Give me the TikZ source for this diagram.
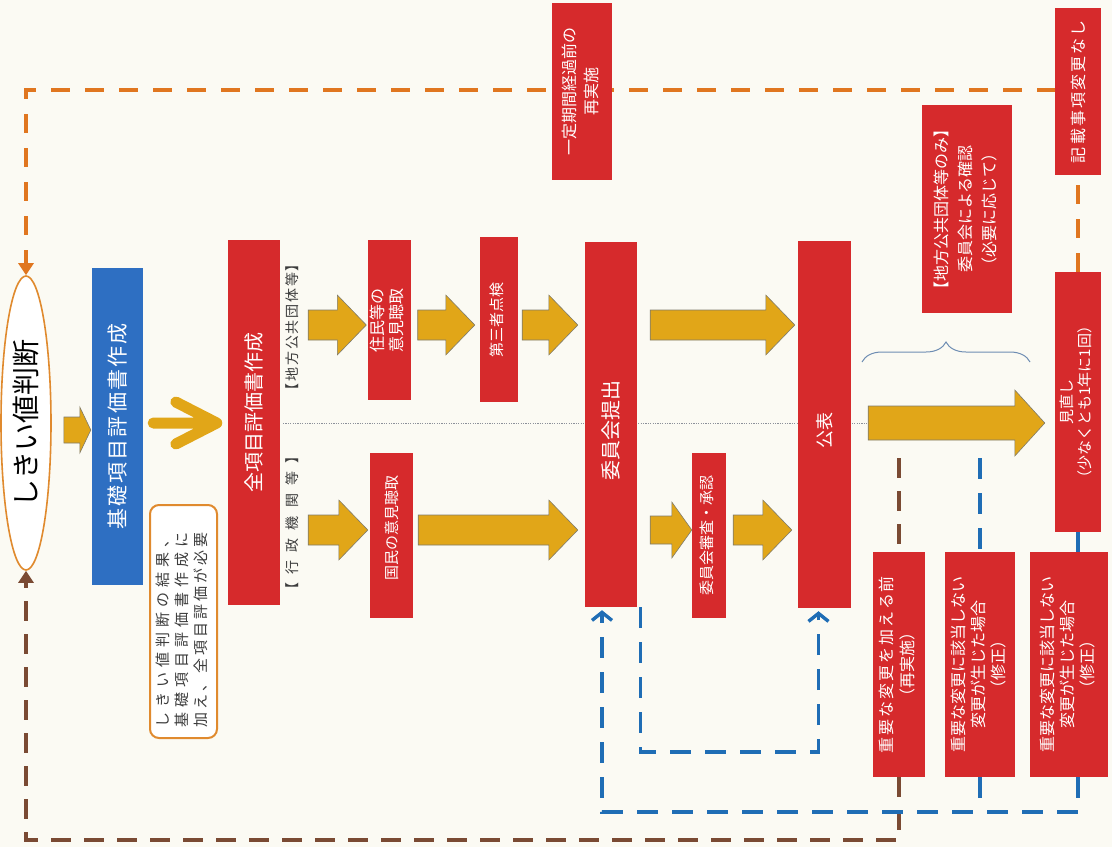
\documentclass[tikz,border=0pt]{standalone}
\usepackage{fontspec}
\setmainfont{Noto Sans CJK JP}
\usetikzlibrary{shapes.geometric,arrows.meta,calc,decorations.pathreplacing}
\pgfdeclarelayer{bg}
\pgfdeclarelayer{lines}
\pgfsetlayers{bg,lines,main}

\definecolor{paper}{HTML}{FBFAF3}
\definecolor{boxred}{HTML}{D62A2C}
\definecolor{boxblue}{HTML}{2E6FC2}
\definecolor{gold}{HTML}{E1A618}
\definecolor{goldedge}{HTML}{7F7B6C}
\definecolor{dashorange}{HTML}{E0761F}
\definecolor{dashbrown}{HTML}{7A4A33}
\definecolor{dashblue}{HTML}{1F6DB5}
\definecolor{ringorange}{HTML}{E08A2E}
\definecolor{labelgray}{HTML}{3C3C3C}
\definecolor{bracegray}{HTML}{6E8DB3}
\definecolor{divider}{HTML}{8C909A}

% spread the characters of #2 evenly over the width #1
\ExplSyntaxOn
\NewDocumentCommand\spreadtext{mm}
 {
  \makebox[#1]{
   \bool_set_false:N \l_tmpa_bool
   \tl_map_inline:nn {#2}
    {
     \bool_if:NT \l_tmpa_bool { \hfill }
     \bool_set_true:N \l_tmpa_bool
     ##1
    }
  }
 }
\ExplSyntaxOff

% vertical (rotated) multi-line text
\newcommand\vtxt[1]{\rotatebox{90}{\begin{tabular}{@{}c@{}}#1\end{tabular}}}

\tikzset{
  redbox/.style={fill=boxred, text=white, inner sep=0pt},
  bluebox/.style={fill=boxblue, text=white, inner sep=0pt},
  fsz/.style n args={2}{font=\fontsize{#1}{#2}\selectfont},
  ashaft/.store in=\ashaft, ahead/.store in=\ahead, alen/.store in=\alen,
  ashaft=15pt, ahead=30pt, alen=29pt,
  yarrow/.style={draw=goldedge, line width=0.6pt, fill=gold, line join=miter,
    to path={let \p1=(\tikztostart), \p2=(\tikztotarget) in
      (\x1,{\y1+\ashaft}) -- ({\x2-\alen},{\y1+\ashaft}) -- ({\x2-\alen},{\y1+\ahead})
      -- (\x2,\y1) -- ({\x2-\alen},{\y1-\ahead}) -- ({\x2-\alen},{\y1-\ashaft})
      -- (\x1,{\y1-\ashaft}) -- cycle}},
  chevarrow/.style={draw=gold, line width=11pt, line cap=round, line join=round,
    to path={let \p1=(\tikztostart), \p2=(\tikztotarget) in
      (\x1,\y1) -- (\x2,\y1) ({\x2-41pt},{\y1+21pt}) -- (\x2,\y1) -- ({\x2-41pt},{\y1-21pt})}},
  odash/.style={draw=dashorange, line width=3.8pt, dash pattern=on 19pt off 15pt},
  bdash/.style={draw=dashbrown, line width=3.4pt, dash pattern=on 20pt off 13pt},
  ldash/.style={draw=dashblue, line width=3.4pt, dash pattern=on 21pt off 14pt},
  barb/.style={-{Straight Barb[length=8pt,width=20pt]}, shorten >=3pt},
  divline/.style={draw=divider, line width=0.8pt, dash pattern=on 1.2pt off 1.2pt},
}

\begin{document}
\begin{tikzpicture}[x=1pt,y=-1pt]
\begin{pgfonlayer}{bg}
  \fill[paper] (0,0) rectangle (1112,847);
\end{pgfonlayer}
\useasboundingbox (0,0) rectangle (1112,847);

% start of the flow
\node[ellipse, draw=ringorange, line width=1.6pt, fill=white, minimum width=50pt,
      minimum height=294pt, inner sep=0pt, fsz={28}{32}] (ell) at (26,423)
      {\rotatebox{90}{しきい値判断}};
\node[bluebox, minimum width=51pt, minimum height=317pt, fsz={21}{24}] (kiso) at (117.5,426.5)
      {\rotatebox{90}{\spreadtext{206pt}{基礎項目評価書作成}}};
\node[draw=ringorange, line width=2pt, rounded corners=9pt, fill=white, minimum width=67pt,
      minimum height=233pt, inner sep=0pt, text=labelgray, fsz={15}{19}] (note) at (183.5,621.5)
      {\rotatebox{90}{\begin{tabular}{@{}l@{}}\spreadtext{195pt}{しきい値判断の結果、}\\
        \spreadtext{195pt}{基礎項目評価書作成に}\\
        \spreadtext{195pt}{加え、全項目評価が必要}\end{tabular}\hspace{16pt}}};
\node[redbox, minimum width=52pt, minimum height=365pt, fsz={20}{24}] (zen) at (254,422.5)
      {\rotatebox{90}{\hspace{20pt}全項目評価書作成}};

% the two routes
\node[text=labelgray, fsz={14}{16}, inner sep=0pt] (lblA) at (292,327)
      {\rotatebox{90}{\spreadtext{140pt}{【地方公共団体等】}}};
\node[text=labelgray, fsz={14}{16}, inner sep=0pt] (lblB) at (292,523)
      {\rotatebox{90}{\spreadtext{147pt}{【行政機関等】}}};

\node[redbox, minimum width=43pt, minimum height=160pt, fsz={16}{18}] (jumin) at (389,320)
      {\vtxt{住民等の\\意見聴取}};
\node[redbox, minimum width=38pt, minimum height=165pt, fsz={15}{18}] (daisan) at (499,319.5)
      {\vtxt{第三者点検}};
\node[redbox, minimum width=43pt, minimum height=165pt, fsz={15}{18}] (kokumin) at (391.5,535.5)
      {\rotatebox{90}{\hspace{15pt}国民の意見聴取}};
\node[redbox, minimum width=52pt, minimum height=365pt, fsz={20}{24}] (teishutsu) at (611,424.5)
      {\rotatebox{90}{委員会提出\hspace{11pt}}};
\node[redbox, minimum width=34pt, minimum height=165pt, fsz={15}{18}] (shinsa) at (709,535.5)
      {\vtxt{委員会審査・承認}};
\node[redbox, minimum width=53pt, minimum height=367pt, fsz={18}{22}] (kohyo) at (824.5,424.5)
      {\rotatebox{90}{公表\hspace{11pt}}};

% review and follow-up
\node[redbox, minimum width=46pt, minimum height=260pt, fsz={15}{18}] (minaoshi) at (1078,402)
      {\vtxt{見直し\\（少なくとも1年に1回）}};
\node[redbox, minimum width=46pt, minimum height=167pt, fsz={16}{19}] (kisai) at (1078,91.5)
      {\rotatebox{90}{\spreadtext{143pt}{記載事項変更なし}}};
\node[redbox, minimum width=60pt, minimum height=177pt, fsz={16}{22}] (ittei) at (582,91.5)
      {\vtxt{一定期間経過前の\\再実施}};
\node[redbox, minimum width=90pt, minimum height=208pt, fsz={16}{24}] (chiho) at (967,209)
      {\vtxt{【地方公共団体等のみ】\\委員会による確認\\（必要に応じて）}};
\node[redbox, minimum width=52pt, minimum height=225pt, fsz={16}{21}] (caseA) at (899,664.5)
      {\vtxt{\spreadtext{177pt}{重要な変更を加える前}\\（再実施）}};
\node[redbox, minimum width=70pt, minimum height=225pt, fsz={16}{20}] (caseB) at (980,664.5)
      {\vtxt{重要な変更に該当しない\\変更が生じた場合\\（修正）}};
\node[redbox, minimum width=78pt, minimum height=225pt, fsz={16}{20}] (caseC) at (1069,664.5)
      {\vtxt{重要な変更に該当しない\\変更が生じた場合\\（修正）}};

% helper positions
\coordinate (topy) at (0,90);
\coordinate (boty) at (0,840);
\coordinate (fork) at (0,458);
\coordinate (bluey) at (0,812);
\coordinate (innery) at (0,752);
\coordinate (row0) at (0,430);
\coordinate (row0b) at (0,423);
\coordinate (row1) at (0,325);
\coordinate (row2) at (0,530);
\coordinate (mid) at (0,423);
\coordinate (divL) at (283,423);
\coordinate (divR) at (868,423);
\coordinate (brL) at (862,362);
\coordinate (brR) at (1030,362);
\coordinate (rin) at ([xshift=-9pt]teishutsu.south);
\coordinate (rout) at ([xshift=3pt]teishutsu.south east);
\coordinate (kin) at ([xshift=-6pt]kohyo.south);

% main flow arrows
\draw[yarrow, ashaft=13pt, ahead=23pt, alen=11pt] ([xshift=12pt]ell.east |- row0) to ([xshift=-1pt]kiso.west |- row0);
\draw[chevarrow] ([xshift=10pt]kiso.east |- row0b) to ([xshift=-11pt]zen.west |- row0b);
\draw[yarrow] ([xshift=28pt]zen.east |- row1) to ([xshift=-1pt]jumin.west |- row1);
\draw[yarrow] ([xshift=7pt]jumin.east |- row1) to ([xshift=-5pt]daisan.west |- row1);
\draw[yarrow] ([xshift=4pt]daisan.east |- row1) to ([xshift=-7pt]teishutsu.west |- row1);
\draw[yarrow] ([xshift=13pt]teishutsu.east |- row1) to ([xshift=-3pt]kohyo.west |- row1);
\draw[yarrow] ([xshift=28pt]zen.east |- row2) to ([xshift=-2pt]kokumin.west |- row2);
\draw[yarrow] ([xshift=5pt]kokumin.east |- row2) to ([xshift=-7pt]teishutsu.west |- row2);
\draw[yarrow, ashaft=14pt, ahead=28pt, alen=20pt] ([xshift=13pt]teishutsu.east |- row2) to (shinsa.west |- row2);
\draw[yarrow] ([xshift=7pt]shinsa.east |- row2) to ([xshift=-6pt]kohyo.west |- row2);
\draw[yarrow, ashaft=17pt, ahead=33pt, alen=30pt] ([xshift=17pt]kohyo.east |- mid) to ([xshift=-10pt]minaoshi.west |- mid);

\begin{pgfonlayer}{lines}
  \draw[divline] (divL) -- (divR);
  \draw[odash, -{Triangle[length=12pt,width=15pt]}] (minaoshi.north) -- (minaoshi.north |- topy)
        -- (ell.north |- topy) -- (ell.north);
  \draw[bdash] (caseA.north |- fork) -- (caseA.north);
  \draw[bdash, -{Triangle[length=12pt,width=15pt]}] (caseA.south) -- (caseA.south |- boty)
        -- (ell.south |- boty) -- (ell.south);
  \draw[ldash] (caseB.north |- fork) -- (caseB.north);
  \draw[ldash] (minaoshi.south) -- (minaoshi.south |- caseC.north);
  \draw[ldash] (caseB.south) -- (caseB.south |- bluey);
  \draw[ldash, barb] (minaoshi.south |- caseC.south) -- (minaoshi.south |- bluey)
        -- (rin |- bluey) -- (rin);
  \draw[ldash, barb] (rout) -- (rout |- innery) -- (kin |- innery) -- (kin);
  \draw[bracegray, line width=1pt, decorate, decoration={brace, amplitude=20pt}] (brL) -- (brR);
\end{pgfonlayer}
\end{tikzpicture}
\end{document}
